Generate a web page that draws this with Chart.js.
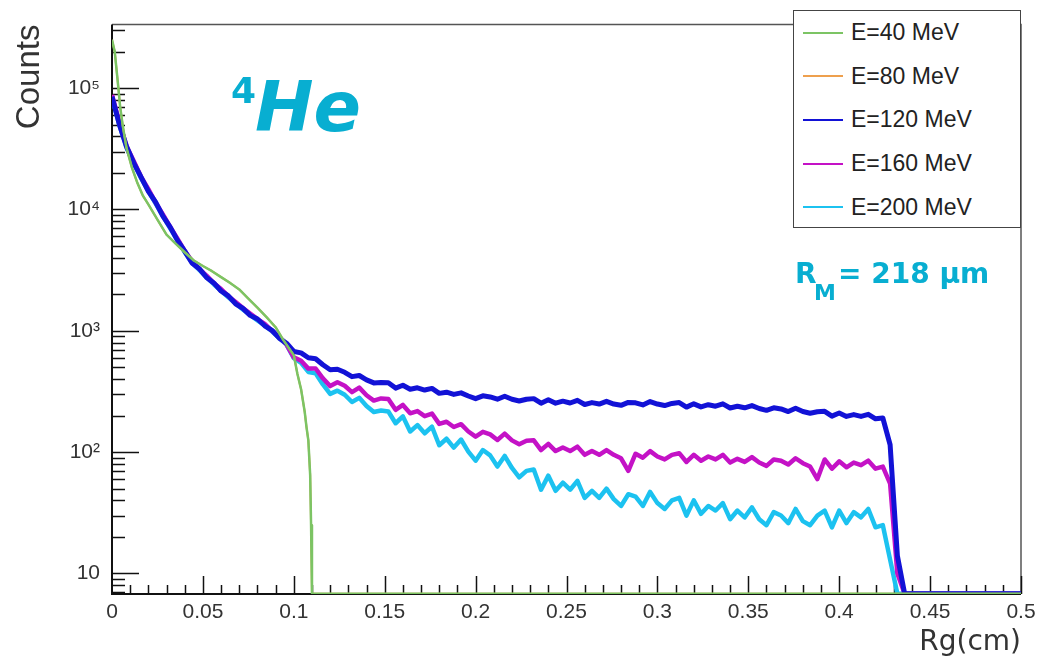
<!doctype html>
<html>

<head>
	<title>4He Rg distribution</title>
	<style>
		body {
			margin: 0;
			background: white;
			font-family: "Liberation Sans", sans-serif;
		}

		#wrap {
			position: relative;
			width: 1053px;
			height: 662px;
		}

		#legend {
			position: absolute;
			left: 793px;
			top: 10px;
			width: 226px;
			height: 216px;
			border: 1.5px solid #444;
			background: white;
		}

		#legend .row {
			height: 43.6px;
			display: flex;
			align-items: center;
			font-size: 23px;
			color: #222;
		}

		#legend .swatch {
			display: inline-block;
			width: 40px;
			height: 2px;
			margin: 0 8px 0 9px;
		}
	</style>
	<script src="https://cdn.jsdelivr.net/npm/chart.js@4.4.1/dist/chart.umd.min.js"></script>
</head>

<body>
	<div id="wrap">
		<canvas id="rg" width="1053" height="662"></canvas>
		<div id="legend"></div>
	</div>
	<script>
		"use strict";
		// Rg bin centres (cm) shared by the 120/160/200 MeV curves
		const rg = [
			0, 0.004, 0.008, 0.012, 0.016, 0.02, 0.024, 0.028, 0.032, 0.036,
			0.04, 0.044, 0.048, 0.052, 0.056, 0.06, 0.064, 0.068, 0.072, 0.076,
			0.08, 0.084, 0.088, 0.092, 0.096, 0.1, 0.104, 0.108, 0.112, 0.116,
			0.12, 0.124, 0.128, 0.132, 0.136, 0.14, 0.144, 0.148, 0.152, 0.156,
			0.16, 0.164, 0.168, 0.172, 0.176, 0.18, 0.184, 0.188, 0.192, 0.196,
			0.2, 0.204, 0.208, 0.212, 0.216, 0.22, 0.224, 0.228, 0.232, 0.236,
			0.24, 0.244, 0.248, 0.252, 0.256, 0.26, 0.264, 0.268, 0.272, 0.276,
			0.28, 0.284, 0.288, 0.292, 0.296, 0.3, 0.304, 0.308, 0.312, 0.316,
			0.32, 0.324, 0.328, 0.332, 0.336, 0.34, 0.344, 0.348, 0.352, 0.356,
			0.36, 0.364, 0.368, 0.372, 0.376, 0.38, 0.384, 0.388, 0.392, 0.396,
			0.4, 0.404, 0.408, 0.412, 0.416, 0.42, 0.424, 0.428, 0.432, 0.436,
			0.5
		];
		// empty bins sit on the bottom of the frame, like ROOT does on a log axis
		const e120 = [
			85000, 50500, 33000, 24100, 18500, 14100, 11500, 8800, 7150, 5560,
			4540, 3620, 3250, 2750, 2480, 2130, 1940, 1670, 1530, 1340,
			1250, 1100, 1010, 870, 790, 675, 658, 600, 588, 525,
			477, 482, 455, 419, 428, 394, 372, 375, 373, 337,
			356, 330, 339, 325, 335, 305, 312, 299, 308, 290,
			276, 291, 285, 273, 289, 273, 264, 273, 276, 253,
			270, 253, 263, 254, 267, 247, 256, 249, 262, 249,
			243, 257, 255, 245, 261, 249, 242, 252, 256, 235,
			250, 236, 246, 239, 250, 231, 239, 232, 242, 229,
			221, 232, 227, 216, 230, 216, 209, 215, 217, 198,
			210, 197, 204, 197, 205, 188, 191, 115, 14, 6.8,
			6.8
		];
		const e160 = [
			88000, 52500, 33200, 25000, 18600, 14700, 11400, 9100, 7200, 5750,
			4560, 3760, 3240, 2850, 2470, 2210, 1930, 1730, 1540, 1390,
			1250, 1140, 1000, 890, 770, 605, 566, 488, 489, 406,
			350, 376, 352, 312, 340, 294, 266, 277, 274, 223,
			245, 209, 218, 198, 208, 171, 178, 161, 170, 148,
			134, 147, 140, 126, 142, 125, 116, 124, 125, 104,
			117, 102, 109, 102, 111, 95, 102, 95, 104, 95,
			89, 70, 97, 90, 102, 92, 87, 95, 98, 83,
			95, 85, 92, 87, 95, 82, 88, 83, 91, 82,
			77, 87, 85, 79, 89, 81, 76, 60, 87, 73,
			84, 75, 82, 78, 85, 73, 76, 55, 10, 6.8,
			6.8
		];
		const e200 = [
			84000, 50000, 32200, 24000, 18100, 14200, 11200, 8800, 7000, 5600,
			4450, 3650, 3180, 2770, 2420, 2140, 1890, 1680, 1500, 1350,
			1220, 1110, 990, 870, 770, 595, 545, 458, 446, 361,
			302, 321, 297, 259, 280, 240, 214, 220, 216, 173,
			197, 148, 167, 143, 162, 114, 129, 109, 127, 101,
			85, 104, 94, 76, 93, 74, 62, 70, 72, 49,
			64, 48, 56, 49, 58, 42, 48, 42, 50, 41,
			36, 45, 43, 36, 47, 38, 34, 40, 42, 30,
			40, 31, 36, 33, 38, 28, 33, 29, 35, 28,
			25, 32, 30, 26, 34, 27, 25, 30, 33, 24,
			33, 26, 32, 29, 34, 24, 25, 13, 6.8, 6.8,
			6.8
		];
		// 40 MeV curve has its own, finer bins around the steep parts
		const rg40 = [0, 0.0015, 0.003, 0.0045, 0.006, 0.008, 0.011, 0.014, 0.017, 0.02,
			0.025, 0.03, 0.035, 0.04, 0.045, 0.05, 0.055, 0.06, 0.065, 0.07,
			0.075, 0.08, 0.085, 0.09, 0.094, 0.097, 0.1, 0.102, 0.104, 0.106,
			0.107, 0.108, 0.109, 0.1095, 0.11, 0.5];
		const e40 = [250000, 200000, 120000, 70000, 48000, 32000, 22000, 16500, 13000, 11000,
			8240, 6200, 5230, 4440, 3800, 3420, 3100, 2770, 2480, 2190,
			1840, 1550, 1295, 1070, 850, 730, 630, 440, 330, 215,
			160, 125, 65, 25, 6.8, 6.8];
		// the 80 MeV curve is not visible anywhere: it lies under the 40 MeV one
		const e80 = e40.slice();

		const xTicks = [0, 0.05, 0.1, 0.15, 0.2, 0.25, 0.3, 0.35, 0.4, 0.45, 0.5];
		const xTickLabels = ["0", "0.05", "0.1", "0.15", "0.2", "0.25", "0.3", "0.35", "0.4", "0.45", "0.5"];
		const yTicks = [10, 100, 1000, 10000, 100000];
		const yTickLabels = ["10", "10²", "10³", "10⁴", "10⁵"];

		const pts = (xs, ys) => xs.map((x, i) => ({ x: x, y: ys[i] }));

		const frame = {
			id: "frame",
			beforeDatasetsDraw(chart) {
				const { ctx, chartArea: a, scales: { x, y } } = chart;
				ctx.save();
				ctx.strokeStyle = "#555";
				ctx.lineWidth = 1.5;
				ctx.beginPath();
				ctx.moveTo(a.left, a.top);
				ctx.lineTo(a.right, a.top);
				ctx.lineTo(a.right, a.bottom);
				ctx.stroke();
				ctx.strokeStyle = "#111";
				ctx.lineWidth = 2;
				ctx.beginPath();
				ctx.moveTo(a.left, a.top);
				ctx.lineTo(a.left, a.bottom);
				ctx.lineTo(a.right, a.bottom);
				ctx.stroke();
				ctx.lineWidth = 1.5;
				ctx.beginPath();
				for (let d = 1; d <= 1e5; d *= 10) {
					for (let m = 1; m < 10; m++) {
						const v = m * d;
						if (v < y.min || v > y.max) continue;
						const py = Math.round(y.getPixelForValue(v)) + 0.5;
						ctx.moveTo(a.left, py);
						ctx.lineTo(a.left + (m === 1 ? 27 : 13), py);
					}
				}
				for (let i = 1; i <= 50; i++) {
					const px = Math.round(x.getPixelForValue(i / 100)) + 0.5;
					ctx.moveTo(px, a.bottom);
					ctx.lineTo(px, a.bottom - (i % 5 === 0 ? 18 : 9));
				}
				ctx.stroke();
				ctx.restore();
			}
		};

		const labels = {
			id: "labels",
			afterDraw(chart) {
				const ctx = chart.ctx;
				ctx.save();
				ctx.fillStyle = "#08aed1";
				ctx.textBaseline = "alphabetic";
				ctx.font = 'bold 36px "DejaVu Sans"';
				ctx.fillText("4", 231, 103);
				ctx.font = 'italic bold 70px "DejaVu Sans"';
				ctx.fillText("He", 255, 131);
				ctx.font = 'bold 28px "DejaVu Sans"';
				ctx.fillText("R", 795, 283);
				ctx.font = 'bold 22px "DejaVu Sans"';
				ctx.fillText("M", 814, 300);
				ctx.font = 'bold 28px "DejaVu Sans"';
				ctx.fillText("= 218 μm", 838, 283);
				ctx.restore();
			}
		};

		const chart = new Chart(document.getElementById("rg"), {
			type: "line",
			data: {
				datasets: [{
					label: "E=40 MeV",
					data: pts(rg40, e40),
					borderColor: "#7cc464",
					borderWidth: 2.5
				}, {
					label: "E=80 MeV",
					data: pts(rg40, e80),
					borderColor: "#eea04e",
					borderWidth: 2
				}, {
					label: "E=120 MeV",
					data: pts(rg, e120),
					borderColor: "#1212d6",
					borderWidth: 5
				}, {
					label: "E=160 MeV",
					data: pts(rg, e160),
					borderColor: "#c412c6",
					borderWidth: 4.5
				}, {
					label: "E=200 MeV",
					data: pts(rg, e200),
					borderColor: "#1cc2f0",
					borderWidth: 4.5
				}]
			},
			options: {
				responsive: false,
				animation: false,
				devicePixelRatio: 1,
				elements: {
					point: { radius: 0 },
					line: { tension: 0, borderJoinStyle: "round" }
				},
				layout: { padding: { top: 12, right: 32, left: 0, bottom: 0 } },
				plugins: {
					legend: { display: false },
					tooltip: { enabled: false }
				},
				scales: {
					x: {
						type: "linear",
						min: 0,
						max: 0.5,
						grid: { display: false, drawTicks: false },
						border: { display: false },
						afterBuildTicks: s => { s.ticks = xTicks.map(v => ({ value: v })); },
						afterFit: s => { s.height = 68; },
						ticks: {
							autoSkip: false,
							maxRotation: 0,
							padding: 6,
							color: "#333",
							font: { family: "Liberation Sans", size: 21 },
							callback: v => xTickLabels[xTicks.indexOf(v)]
						},
						title: {
							display: true,
							text: "Rg(cm)",
							align: "end",
							color: "#333",
							padding: { bottom: 2 },
							font: { family: "DejaVu Sans", size: 28 }
						}
					},
					y: {
						type: "logarithmic",
						min: 6.77,
						max: 334000,
						grid: { display: false, drawTicks: false },
						border: { display: false },
						afterBuildTicks: s => { s.ticks = yTicks.map(v => ({ value: v })); },
						afterFit: s => { s.width = 112; },
						ticks: {
							autoSkip: false,
							padding: 12,
							color: "#333",
							font: { family: "Liberation Sans", size: 21 },
							callback: v => yTickLabels[yTicks.indexOf(v)]
						},
						title: {
							display: true,
							text: "Counts",
							align: "end",
							color: "#333",
							padding: { top: 10 },
							font: { family: "Liberation Sans", size: 33 }
						}
					}
				}
			},
			plugins: [frame, labels]
		});

		const legend = document.getElementById("legend");
		chart.data.datasets.forEach(ds => {
			const row = document.createElement("div");
			row.className = "row";
			const sw = document.createElement("span");
			sw.className = "swatch";
			sw.style.background = ds.borderColor;
			row.appendChild(sw);
			row.appendChild(document.createTextNode(ds.label));
			legend.appendChild(row);
		});
	</script>
</body>

</html>
